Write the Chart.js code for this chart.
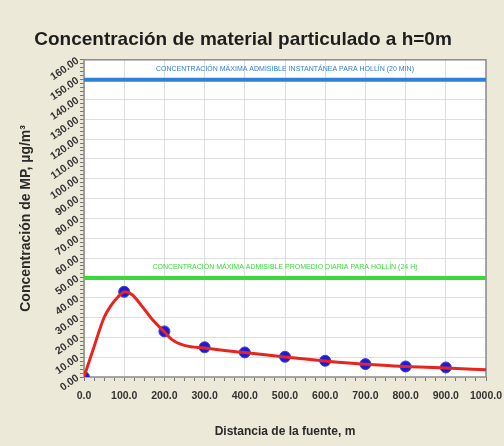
<!DOCTYPE html>
<html>
<head>
<meta charset="utf-8">
<script src="https://cdn.jsdelivr.net/npm/chart.js@4"></script>
<style>
  html, body { margin: 0; padding: 0; background: #ECE9D8; }
  #wrap { width: 504px; height: 446px; }
</style>
</head>
<body>
<div id="wrap"><canvas id="grafico" width="504" height="446"></canvas></div>
<script>
// Datos
const distMuestras = [0, 100, 200, 300, 400, 500, 600, 700, 800, 900];
const concMuestras = [0, 43, 23, 15, 12.4, 10.2, 8.2, 6.5, 5.3, 4.8];

const distCurva = [0, 25, 50, 67, 85, 102, 120, 143, 170, 200, 218, 252, 300, 350, 400, 500, 600, 700, 800, 900, 1000];
const concCurva = [0, 15.3, 30, 36, 40.5, 43, 41.5, 36, 29, 22.7, 19, 15.8, 14.6, 13.4, 12.3, 10.1, 8.1, 6.4, 5.3, 4.6, 3.6];

const limiteInstantaneo = 150;
const limiteDiario = 50;
const textoInstantaneo = "CONCENTRACIÓN MÁXIMA ADMISIBLE INSTANTÁNEA PARA HOLLÍN (20 MIN)";
const textoDiario = "CONCENTRACIÓN MÁXIMA ADMISIBLE PROMEDIO DIARIA PARA HOLLÍN (24 H)";

const xMin = 0, xMax = 1000;
const yMin = 0, yMax = 160;

const azul = "#2f80d8";
const verde = "#3ad83a";
const arial = "Arial, 'Liberation Sans', sans-serif";

// fondo blanco, marco y textos de los límites
const marco = {
    id: "marco",
    beforeDraw(chart) {
        const a = chart.chartArea;
        const ctx = chart.ctx;
        ctx.save();
        ctx.fillStyle = "#ffffff";
        ctx.fillRect(a.left, a.top, a.right - a.left, a.bottom - a.top);
        ctx.restore();
    },
    beforeDatasetsDraw(chart) {
        const a = chart.chartArea;
        const ctx = chart.ctx;
        ctx.save();
        ctx.strokeStyle = "#8a8a8a";
        ctx.lineWidth = 1.5;
        ctx.strokeRect(a.left, a.top, a.right - a.left, a.bottom - a.top);
        ctx.restore();
    },
    afterDatasetsDraw(chart) {
        const ctx = chart.ctx;
        const y = chart.scales.y;
        const x = chart.scales.x;
        const cx = (x.getPixelForValue(xMin) + x.getPixelForValue(xMax)) / 2;
        ctx.save();
        ctx.font = "7px " + arial;
        ctx.textAlign = "center";
        ctx.textBaseline = "bottom";
        ctx.fillStyle = azul;
        ctx.fillText(textoInstantaneo, cx, y.getPixelForValue(limiteInstantaneo) - 7);
        ctx.fillStyle = verde;
        ctx.fillText(textoDiario, cx, y.getPixelForValue(limiteDiario) - 7);
        ctx.restore();
    }
};

const fuenteTicks = { family: arial, size: 10.5, weight: "bold" };

new Chart(document.getElementById("grafico"), {
    type: "scatter",
    data: {
        datasets: [
            {
                label: "instantanea",
                data: [{ x: xMin, y: limiteInstantaneo }, { x: xMax, y: limiteInstantaneo }],
                showLine: true,
                borderColor: azul,
                borderWidth: 4,
                pointRadius: 0
            },
            {
                label: "diaria",
                data: [{ x: xMin, y: limiteDiario }, { x: xMax, y: limiteDiario }],
                showLine: true,
                borderColor: verde,
                borderWidth: 4,
                pointRadius: 0
            },
            {
                label: "curva",
                data: distCurva.map((d, i) => ({ x: d, y: concCurva[i] })),
                showLine: true,
                borderColor: "#e8241e",
                borderWidth: 3,
                pointRadius: 0,
                cubicInterpolationMode: "monotone"
            },
            {
                label: "muestras",
                data: distMuestras.map((d, i) => ({ x: d, y: concMuestras[i] })),
                showLine: false,
                pointRadius: 5.5,
                pointBackgroundColor: "#1c1cd8",
                pointBorderColor: "#4040e0",
                pointBorderWidth: 1
            }
        ]
    },
    options: {
        responsive: false,
        animation: false,
        layout: { padding: { left: 0, right: 18, top: 0, bottom: 0 } },
        plugins: {
            legend: { display: false },
            tooltip: { enabled: false },
            title: {
                display: true,
                text: "Concentración de material particulado a h=0m",
                color: "#1e1e1e",
                font: { family: arial, size: 19, weight: "bold" },
                padding: { top: 28, bottom: 9 }
            }
        },
        scales: {
            x: {
                type: "linear",
                min: xMin,
                max: xMax,
                afterFit: s => { s.height = 69; s.paddingLeft = 0; s.paddingRight = 0; },
                afterBuildTicks: s => {
                    const t = [];
                    for (let v = xMin; v <= xMax; v += 25) t.push({ value: v });
                    s.ticks = t;
                },
                grid: {
                    color: c => (c.tick && c.tick.value % 100 === 0) ? "#dedede" : "rgba(0,0,0,0)",
                    tickColor: "#777",
                    tickLength: 4
                },
                border: { display: false },
                ticks: {
                    autoSkip: false,
                    maxRotation: 0,
                    minRotation: 0,
                    padding: 9,
                    color: "#333",
                    font: fuenteTicks,
                    callback: v => (v % 100 === 0) ? v.toFixed(1) : ""
                },
                title: {
                    display: true,
                    text: "Distancia de la fuente, m",
                    color: "#2a2a2a",
                    font: { family: arial, size: 12, weight: "bold" },
                    padding: 7
                }
            },
            y: {
                type: "linear",
                min: yMin,
                max: yMax,
                afterFit: s => { s.width = 84; s.paddingTop = 0; s.paddingBottom = 0; },
                afterBuildTicks: s => {
                    const t = [];
                    for (let v = yMin; v <= yMax; v += 2) t.push({ value: v });
                    s.ticks = t;
                },
                grid: {
                    color: c => (c.tick && c.tick.value % 10 === 0) ? "#dedede" : "rgba(0,0,0,0)",
                    tickColor: "#777",
                    tickLength: 4
                },
                border: { display: false },
                ticks: {
                    autoSkip: false,
                    minRotation: 35,
                    maxRotation: 35,
                    padding: 2,
                    color: "#333",
                    font: fuenteTicks,
                    callback: v => (v % 10 === 0) ? v.toFixed(2) : ""
                },
                title: {
                    display: true,
                    text: "Concentración de MP, µg/m³",
                    color: "#2a2a2a",
                    font: { family: arial, size: 14, weight: "bold" },
                    padding: 18
                }
            }
        }
    },
    plugins: [marco]
});
</script>
</body>
</html>
